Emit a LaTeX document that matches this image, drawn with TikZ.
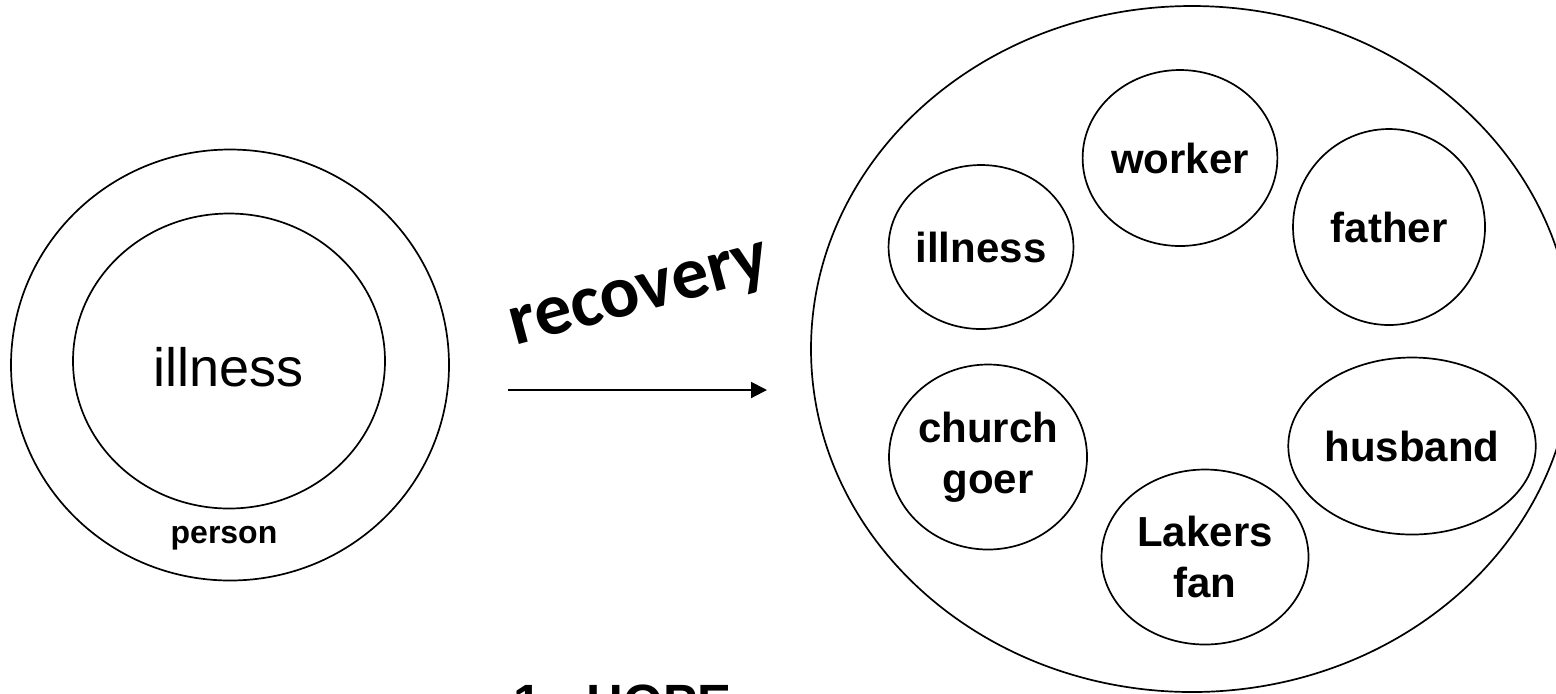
\documentclass[tikz,border=0pt]{standalone}
\usepackage{fontspec}
\setmainfont{Liberation Sans}
\newfontfamily\wordart{Carlito}
\usetikzlibrary{arrows.meta,shapes.geometric}

\begin{document}
\begin{tikzpicture}[
    x=0.5pt, y=-0.5pt,
    every node/.style={inner sep=0pt},
    ring/.style={draw, ellipse, line width=0.85pt},
    role/.style={ring, align=center, font=\bfseries\fontsize{21}{25.5}\selectfont},
    flow/.style={-{Triangle[length=8pt, width=8pt]}, line width=1pt}
]
\path[use as bounding box, clip] (0,0) rectangle (1556,693);
% before recovery
\node[ring, minimum width=219pt, minimum height=215.5pt] (person) at (230,365) {};
\node[ring, minimum width=156pt, minimum height=147.5pt, text height=26pt, font=\fontsize{27}{32}\selectfont] (illness) at (229,361) {illness};
\node[font=\bfseries\fontsize{16}{19}\selectfont, anchor=base] (personlabel) at (224,543) {person};
% the change
\coordinate (from) at (508,390);
\coordinate (to) at (767,390);
\draw[flow] (from) -- (to);
\node[font=\wordart\bfseries\fontsize{37}{44}\selectfont, rotate=15] (recovery) at (641,299) {recovery};
% after recovery
\node[ring, minimum width=381pt, minimum height=343pt] (self) at (1192,349) {};
\node[role, minimum width=88.5pt, minimum height=82pt] (sick) at (981,247) {illness};
\node[role, minimum width=96.5pt, minimum height=88pt] (worker) at (1180,158) {worker};
\node[role, minimum width=96pt, minimum height=98pt] (father) at (1389,227) {father};
\node[role, minimum width=104.5pt, minimum height=88.5pt] (husband) at (1412,446) {husband};
\node[role, minimum width=96.5pt, minimum height=92.5pt] (church) at (988,457) {church\\goer};
\node[role, minimum width=103.5pt, minimum height=87.5pt] (lakers) at (1205,557) {Lakers\\fan};
\node[font=\bfseries\fontsize{25.5}{30}\selectfont, anchor=base west] (hope) at (513,720) {1.\hspace{0.6em}HOPE};
\end{tikzpicture}
\end{document}
